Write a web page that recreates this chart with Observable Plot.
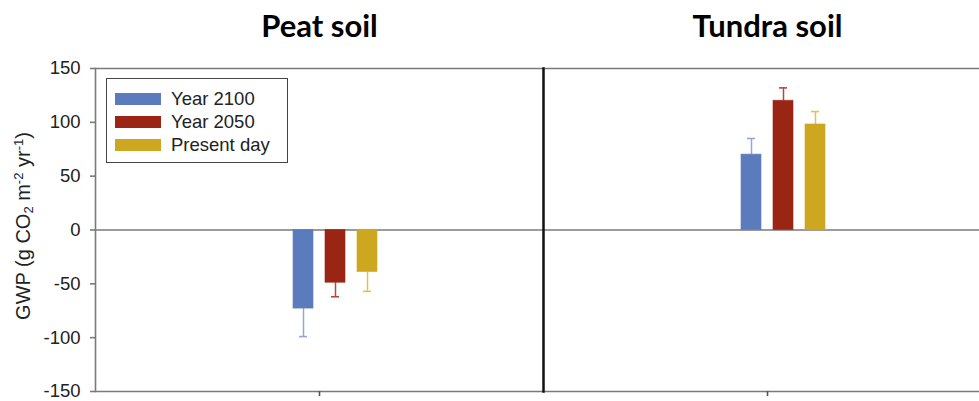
<!DOCTYPE html>
<html>
<head>
<meta charset="utf-8">
<script src="https://cdn.jsdelivr.net/npm/d3@7"></script>
<script src="https://cdn.jsdelivr.net/npm/@observablehq/plot@0.6"></script>
<style>
  html, body { margin: 0; padding: 0; background: #fff; overflow: hidden; }
  #wrap { position: relative; width: 979px; height: 401px; overflow: hidden; }
  #chart svg { max-width: none !important; }
  #legend { position: absolute; left: 106px; top: 78px; width: 182px; height: 85px;
    border: 1.5px solid #444; background: #fff; font-family: "Liberation Sans", Arial, sans-serif;
    font-size: 18.5px; color: #222; box-sizing: border-box; }
  .row { position: absolute; left: 8px; height: 23px; display: flex; align-items: center; }
  .sw { width: 46px; height: 12px; margin-right: 10px; }
  #ylabel { position: absolute; left: 23px; top: 226px; transform: translate(-50%, -50%) rotate(-90deg);
    white-space: nowrap; font-family: "Liberation Sans", Arial, sans-serif; font-size: 20px; color: #222; }
  #ylabel sub, #ylabel sup { font-size: 13px; }
  #ylabel sub { vertical-align: -3px; }
  #ylabel sup { vertical-align: 7px; }
</style>
</head>
<body>
<div id="wrap"><div id="chart"></div><div id="legend"></div>
<div id="ylabel">GWP (g CO<sub>2</sub> m<sup>-2</sup> yr<sup>-1</sup>)</div></div>
<script>
const soils = ["Peat soil", "Tundra soil"];
const series = ["Year 2100", "Year 2050", "Present day"];
const slots = ["gap", "Year 2100", "Year 2050", "Present day"];
const peatValues = [-73, -49, -39];
const peatErrors = [26, 13, 18];
const tundraValues = [70, 120, 98];
const tundraErrors = [15, 12, 12];
const yTicks = [-150, -100, -50, 0, 50, 100, 150];
const barColors = ["#5b7bbd", "#9a2514", "#cda71f"];
const errColors = ["#90a8d8", "#b5483a", "#e0c252"];

const rows = [];
series.forEach((s, i) => {
  rows.push({soil: soils[0], series: s, value: peatValues[i], err: peatErrors[i]});
  rows.push({soil: soils[1], series: s, value: tundraValues[i], err: tundraErrors[i]});
});
rows.forEach(d => { d.end = d.value + Math.sign(d.value) * d.err; });

const plot = Plot.plot({
  width: 991, height: 401,
  marginLeft: 95, marginRight: 0, marginTop: 68, marginBottom: 10,
  style: {fontFamily: "Liberation Sans, Arial, sans-serif", fontSize: "18.5px", color: "#222", maxWidth: "none"},
  fx: {domain: soils, padding: 0},
  x: {domain: slots, paddingInner: 0.364, paddingOuter: 4.97, axis: null},
  y: {domain: [-150, 150]},
  color: {domain: series, range: barColors},
  marks: [
    Plot.ruleY([150, -150, 0], {stroke: "#7a7a7a", strokeWidth: 1.6}),
    Plot.ruleX(rows, {fx: "soil", x: "series", y1: "value", y2: "end",
      stroke: d => errColors[series.indexOf(d.series)], strokeWidth: 1.5}),
    Plot.tickY(rows, {fx: "soil", x: "series", y: "end",
      stroke: d => errColors[series.indexOf(d.series)], strokeWidth: 1.6, insetLeft: 6, insetRight: 6}),
    Plot.barY(rows, {fx: "soil", x: "series", y1: 0, y2: "value", fill: "series",
      stroke: "series", strokeOpacity: 0.6, strokeWidth: 1}),
    Plot.frame({anchor: "left", fx: () => soils[0], stroke: "#7a7a7a", strokeWidth: 1.6}),
    Plot.frame({anchor: "left", fx: () => soils[1], stroke: "#111", strokeWidth: 2.5}),
    Plot.axisY({ticks: yTicks, tickSize: 5, tickPadding: 10, tickFormat: d => String(d),
      stroke: "#7a7a7a", strokeWidth: 1.6, label: null}),
    Plot.axisFx({anchor: "top", tickSize: 0, tickPadding: 32, label: null,
      fontSize: 31, fontWeight: "bold", fontFamily: "Lato, sans-serif", fill: "#000"}),
    Plot.axisFx({anchor: "bottom", tickSize: 5, tickFormat: () => "", label: null,
      stroke: "#555", strokeWidth: 1.6})
  ]
});
document.getElementById("chart").appendChild(plot);

const legend = document.getElementById("legend");
series.forEach((s, i) => {
  const r = document.createElement("div");
  r.className = "row";
  r.style.top = (8 + i * 23) + "px";
  const sw = document.createElement("div");
  sw.className = "sw";
  sw.style.background = barColors[i];
  const t = document.createElement("span");
  t.textContent = s;
  r.appendChild(sw); r.appendChild(t);
  legend.appendChild(r);
});
</script>
</body>
</html>
